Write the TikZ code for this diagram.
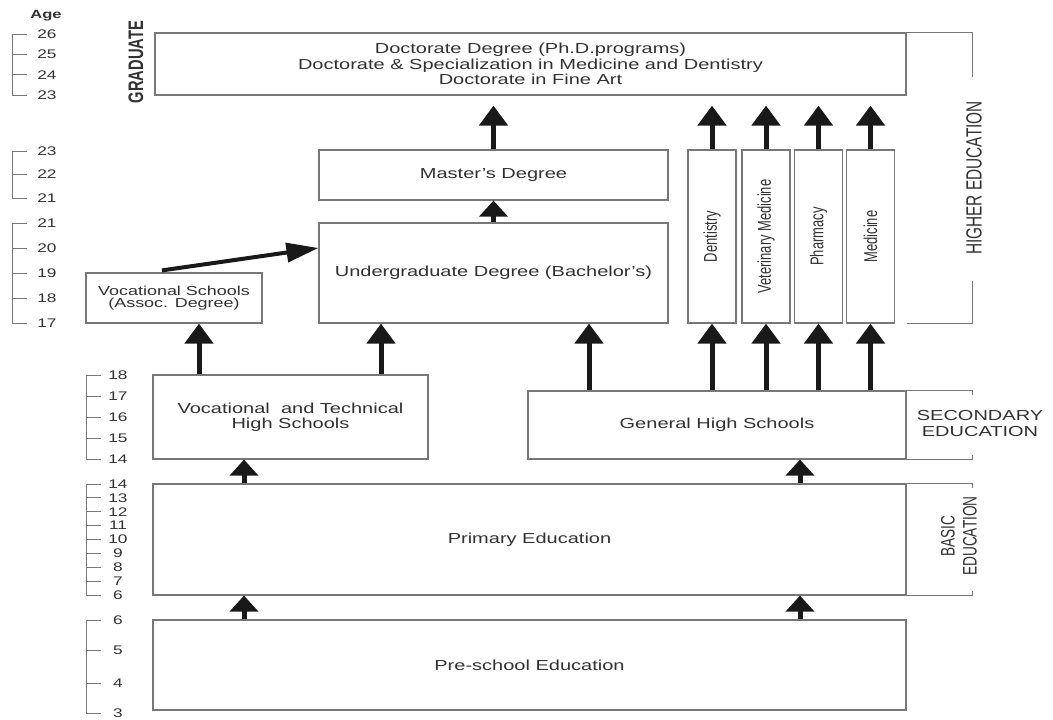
\documentclass[tikz,border=0pt]{standalone}
\usepackage{fontspec}
\usepackage{graphicx}
\usetikzlibrary{arrows.meta, positioning, calc}
\setmainfont{Liberation Sans}
\newfontfamily\widefont[FakeStretch=1.38]{Liberation Sans}
\newfontfamily\narrowfont[FakeStretch=0.7]{Liberation Sans}
\definecolor{inkgray}{RGB}{50,50,50}
\definecolor{framegray}{RGB}{120,120,120}

\begin{document}
\begin{tikzpicture}[
    x=1pt, y=-1pt,
    stage/.style={draw=framegray, line width=1.2pt, fill=white, inner sep=0pt, text=inkgray, align=center, font=\widefont\fontsize{14.5}{15.5}\selectfont},
    vbox/.style={stage, minimum width=48pt, minimum height=173pt, font=\narrowfont\fontsize{18.5}{20}\selectfont},
    bracket/.style={draw=framegray, line width=1.2pt},
    side/.style={text=inkgray, inner sep=0pt, align=center},
    rise/.style={-{Triangle[width=28pt,length=20pt]}, line width=5pt, black!90},
    shortrise/.style={-{Triangle[width=28pt,length=16pt]}, line width=5pt, black!90},
    slant/.style={-{Triangle[width=19pt,length=32pt]}, line width=4pt, black!90},
    agetick/.style={draw=framegray, line width=1pt},
    agenum/.style={text=inkgray, inner sep=0pt, font=\widefont\fontsize{12.5}{12.5}\selectfont}
]
    \useasboundingbox (0,0) rectangle (1053,720);

    % Stages
    \node[stage, minimum width=751pt, minimum height=62pt] (grad) at (530.5,64) {Doctorate Degree (Ph.D.programs)\\Doctorate \& Specialization in Medicine and Dentistry\\Doctorate in Fine Art};
    \node[stage, minimum width=349pt, minimum height=50pt] (master) at (493.5,175) {Master’s Degree};
    \node[stage, minimum width=349pt, minimum height=100pt] (under) at (493.5,273) {Undergraduate Degree (Bachelor’s)};
    \node[stage, minimum width=176pt, minimum height=50pt, font=\widefont\fontsize{13}{12.5}\selectfont] (vocsch) at (174,298) {Vocational Schools\\(Assoc. Degree)};
    \node[vbox] (dent) at (712,236.5) {\rotatebox{90}{Dentistry}};
    \node[vbox] (vet) at (766,236.5) {\rotatebox{90}{Veterinary Medicine}};
    \node[vbox] (pharm) at (818.5,236.5) {\rotatebox{90}{Pharmacy}};
    \node[vbox] (med) at (870.5,236.5) {\rotatebox{90}{Medicine}};
    \node[stage, minimum width=275pt, minimum height=84pt] (vths) at (290.5,417) {Vocational\ \ and Technical\\High Schools};
    \node[stage, minimum width=378pt, minimum height=68pt] (genhs) at (717,425) {General High Schools};
    \node[stage, minimum width=753pt, minimum height=111pt] (primary) at (529.5,539.5) {Primary Education};
    \node[stage, minimum width=753pt, minimum height=90pt] (preschool) at (529.5,665) {Pre-school Education};

    % Levels
    \node[side, rotate=90, font=\narrowfont\bfseries\fontsize{21}{21}\selectfont] (gradlbl) at (136,62) {GRADUATE};
    \node[side, rotate=90, font=\narrowfont\fontsize{22}{22}\selectfont] (higher) at (974,178) {HIGHER EDUCATION};
    \node[side, font=\widefont\fontsize{14.5}{16}\selectfont] (second) at (980,424) {SECONDARY\\EDUCATION};
    \node[side, rotate=90, font=\narrowfont\fontsize{19.5}{22}\selectfont] (basic) at (959,536) {BASIC\\EDUCATION};
    \draw[bracket] (grad.north east) -- ++(66,0) -- ++(0,45);
    \draw[bracket] (grad.east |- med.south) -- ++(66,0) -- ++(0,-43);
    \draw[bracket] (genhs.north east) -- ++(66,0) -- ++(0,5);
    \draw[bracket] (genhs.south east) -- ++(66,0) -- ++(0,-5);
    \draw[bracket] (primary.north east) -- ++(66,0) -- ++(0,5);
    \draw[bracket] (primary.south east) -- ++(66,0) -- ++(0,-5);

    % Ages
    \node[agenum, font=\widefont\bfseries\fontsize{12}{12}\selectfont] (agehead) at (46,16) {Age};
    \draw[agetick] (12,34) -- (12,95);
    \foreach \a/\y in {26/34,25/54.3,24/74.7,23/95}
        \draw[agetick] (12,\y) -- ++(15,0) node[agenum, xshift=20pt] (s1-\a) {\a};
    \draw[agetick] (12,151) -- (12,198);
    \foreach \a/\y in {23/151,22/174.5,21/198}
        \draw[agetick] (12,\y) -- ++(15,0) node[agenum, xshift=20pt] (s2-\a) {\a};
    \draw[agetick] (12,223) -- (12,323);
    \foreach \a/\y in {21/223,20/248,19/273,18/298,17/323}
        \draw[agetick] (12,\y) -- ++(15,0) node[agenum, xshift=20pt] (s3-\a) {\a};
    \draw[agetick] (86,375) -- (86,459);
    \foreach \a/\y in {18/375,17/396,16/417,15/438,14/459}
        \draw[agetick] (86,\y) -- ++(15,0) node[agenum, xshift=17pt] (s4-\a) {\a};
    \draw[agetick] (86,484) -- (86,595);
    \foreach \a/\y in {14/484,13/497.9,12/511.75,11/525.6,10/539.5,9/553.4,8/567.25,7/581.1,6/595}
        \draw[agetick] (86,\y) -- ++(15,0) node[agenum, xshift=17pt] (s5-\a) {\a};
    \draw[agetick] (86,620) -- (86,713);
    \foreach \a/\y in {6/620,5/650,4/683,3/713}
        \draw[agetick] (86,\y) -- ++(15,0) node[agenum, xshift=17pt] (s6-\a) {\a};

    % Paths
    \coordinate (colA) at (199,0);
    \coordinate (colB) at (381,0);
    \coordinate (colC) at (589,0);
    \coordinate (colD) at (244,0);
    \coordinate (colE) at (800,0);
    \draw[rise, shorten >=10pt] (master.north) -- (master.north |- grad.south);
    \foreach \f in {dent,vet,pharm,med}
        \draw[rise, shorten >=10pt] (\f.north) -- (\f.north |- grad.south);
    \draw[shortrise] (under.north) -- (master.south);
    \foreach \f in {dent,vet,pharm,med}
        \draw[rise] (\f.south |- genhs.north) -- (\f.south);
    \draw[rise] (vths.north -| colA) -- (vocsch.south -| colA);
    \draw[rise] (vths.north -| colB) -- (under.south -| colB);
    \draw[rise] (genhs.north -| colC) -- (under.south -| colC);
    \draw[slant] ([shift={(-12pt,2pt)}]vocsch.north) -- ([yshift=25pt]under.west);
    \draw[shortrise] (primary.north -| colD) -- (vths.south -| colD);
    \draw[shortrise] (primary.north -| colE) -- (genhs.south -| colE);
    \draw[shortrise] (preschool.north -| colD) -- (primary.south -| colD);
    \draw[shortrise] (preschool.north -| colE) -- (primary.south -| colE);
\end{tikzpicture}
\end{document}
